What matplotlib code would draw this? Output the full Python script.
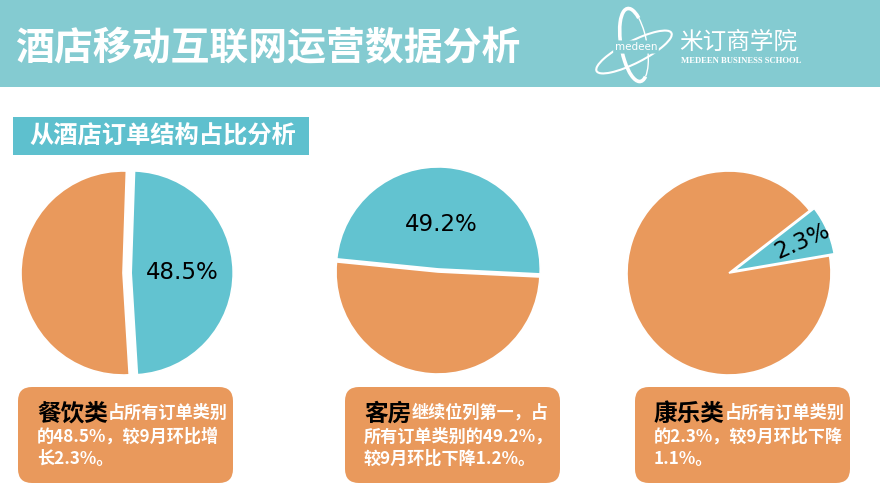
import matplotlib.pyplot as plt
from matplotlib.patches import FancyBboxPatch, Rectangle, Arc

plt.rcParams['font.family'] = ['Noto Sans CJK SC', 'DejaVu Sans']

W, H = 880, 495

title = '酒店移动互联网运营数据分析'
section = '从酒店订单结构占比分析'
school_cn = '米订商学院'
school_en = 'MEDEEN BUSINESS SCHOOL'

categories = ['餐饮类', '客房', '康乐类']
share_labels = ['48.5%', '49.2%', '2.3%']
# wedge sizes as they are drawn (the 2.3% slice is drawn wider than its label)
wedge_sizes = [48.5, 49.2, 7.8]
notes_first = ['占所有订单类别', '继续位列第一，占', '占所有订单类别']
notes_rest = [
    ['的48.5%，较9月环比增', '长2.3%。'],
    ['所有订单类别的49.2%，', '较9月环比下降1.2%。'],
    ['的2.3%，较9月环比下降', '1.1%。'],
]

teal_band = '#84CBD1'
teal = '#62C3D0'
orange = '#E9995C'

# pixel layout
pie_centers = [(123, 273), (438, 272), (729, 273)]
pie_r = 102
start_angles = [-86.5, -2.8, 9.7]
explodes = [0.08, 0.03, 0.05]
pct_dist = [0.5, 0.44, 0.73]
label_rot = [0, 0, 24]
box_x = [18, 345, 635]
box_w = 215

fig = plt.figure(figsize=(W / 100, H / 100), dpi=100)
bg = fig.add_axes([0, 0, 1, 1])
bg.set_xlim(0, W)
bg.set_ylim(H, 0)
bg.axis('off')

# header band
bg.add_patch(Rectangle((0, 0), W, 87, color=teal_band, lw=0))
bg.text(15, 49, title, color='white', fontsize=28, fontweight='bold',
        va='center', ha='left')

# logo
bg.add_patch(Arc((634, 45), 26, 74, angle=-10, theta1=80, theta2=290,
                 color='white', lw=2.6))
bg.add_patch(Arc((634, 45), 26, 74, angle=-10, theta1=290, theta2=440,
                 color='white', lw=1.0))
bg.add_patch(Arc((634, 52), 84, 22, angle=-27, theta1=0, theta2=360,
                 color='white', lw=1.5))
bg.text(636, 47, 'medeen', color='white', fontsize=7.5, family='DejaVu Sans',
        ha='center', va='center',
        bbox=dict(boxstyle='round,pad=0.15', fc=teal_band, ec='none'))
bg.text(679, 42, school_cn, color='white', fontsize=17, ha='left', va='center')
bg.text(681, 61, school_en, color='white', fontsize=6.2, fontweight='bold',
        family='Liberation Serif', ha='left', va='center')

# section label
bg.add_patch(Rectangle((13, 117), 296, 38, color='#5EC0CE', lw=0))
bg.text(29, 137, section, color='white', fontsize=17.5, fontweight='bold',
        ha='left', va='center')

# pies
for i in range(3):
    cx, cy = pie_centers[i]
    ax = fig.add_axes([(cx - pie_r) / W, 1 - (cy + pie_r) / H,
                       2 * pie_r / W, 2 * pie_r / H])
    lab = share_labels[i]
    wedges, texts, autotexts = ax.pie(
        [wedge_sizes[i], 100 - wedge_sizes[i]],
        colors=[teal, orange],
        startangle=start_angles[i],
        counterclock=True,
        explode=[explodes[i], 0],
        autopct=lambda p, lab=lab: lab if p < 50 else '',
        pctdistance=pct_dist[i],
        wedgeprops=dict(edgecolor='white', linewidth=1.2),
        textprops=dict(fontsize=16.5, family='DejaVu Sans', color='black'),
    )
    for w in wedges:
        w.set_clip_on(False)
    autotexts[0].set_rotation(label_rot[i])
    ax.set_xlim(-1, 1)
    ax.set_ylim(-1, 1)
    ax.set_aspect('equal')
    ax.axis('off')

# note boxes
for i in range(3):
    x0 = box_x[i]
    bg.add_patch(FancyBboxPatch((x0 + 14, 387 + 14), box_w - 28, 96 - 28,
                                boxstyle='round,pad=14', fc=orange, ec='none'))
    tx = x0 + 19
    head = bg.text(tx, 421, categories[i], color='black', fontsize=17,
                   fontweight='bold', ha='left', va='baseline')
    bg.annotate(notes_first[i], xy=(1, 0), xycoords=head, xytext=(0, 3),
                textcoords='offset points', color='white', fontsize=12.3,
                fontweight='bold', ha='left', va='bottom')
    for j, line in enumerate(notes_rest[i]):
        bg.text(tx, 442 + 22 * j, line, color='white', fontsize=12.3,
                fontweight='bold', ha='left', va='baseline')

fig.savefig('out.png', dpi=100)
